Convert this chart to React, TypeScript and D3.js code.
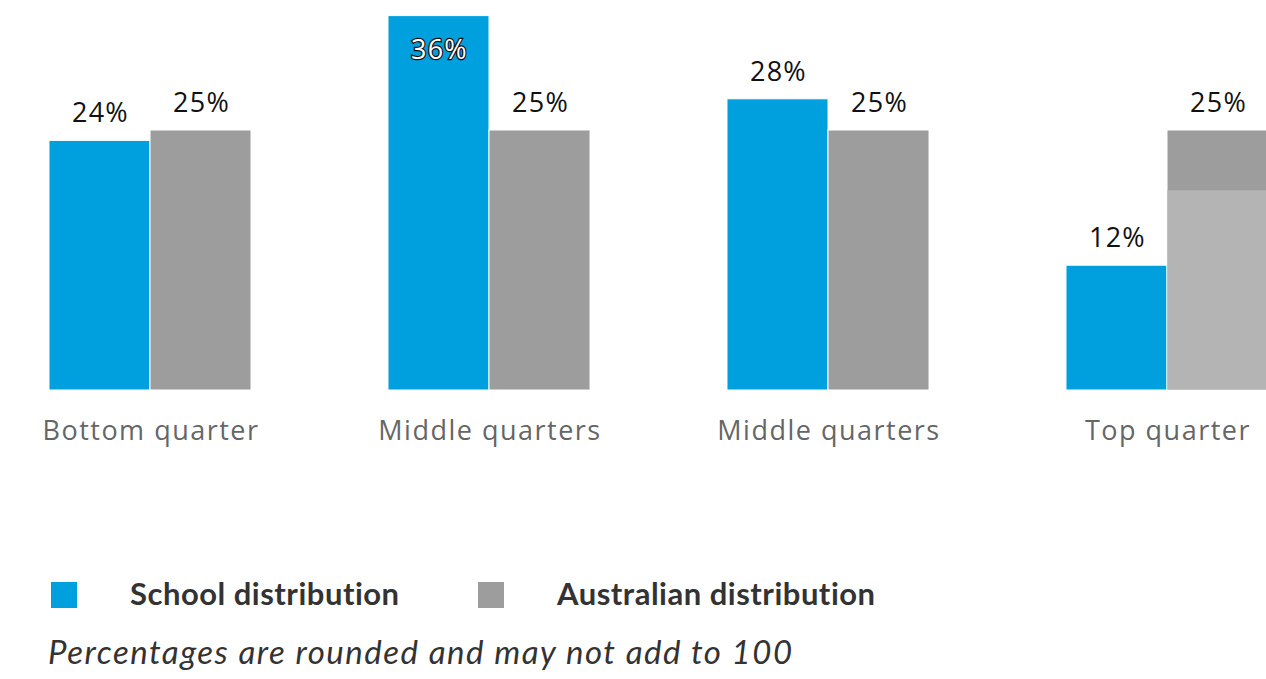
import React, { useEffect, useRef } from "react";
import * as d3 from "d3";

// quarters of the socio-educational scale
const categories = ["Bottom quarter", "Middle quarters", "Middle quarters ", "Top quarter"];
const schoolValues = [24, 36, 28, 12];
const australiaValues = [25, 25, 25, 25];
// lighter (hovered) part of the last grey bar, in %
const hoverValue = 19.2;

const seriesNames = ["School distribution", "Australian distribution"];
const colors = ["#00a0df", "#9d9d9d"];
const note = "Percentages are rounded and may not add to 100";

const App = () => {
  const svgRef = useRef<SVGSVGElement>(null);

  useEffect(() => {
    const width = 1266;
    const height = 679;
    const baseline = 390;

    const svg = d3.select(svgRef.current).attr("width", width).attr("height", height);
    svg.selectAll("*").remove();

    const x = d3
      .scaleBand()
      .domain(categories)
      .range([-19.5, -19.5 + 4 * 339])
      .paddingInner(0.404)
      .paddingOuter(0.202);

    const xSub = d3.scaleBand().domain(["school", "australia"]).range([0, x.bandwidth()]);

    const y = d3.scaleLinear().domain([0, 37.5]).range([baseline, 0]);

    const rows = categories.map((c, i) => ({
      cat: c,
      idx: i,
      bars: [
        { key: "school", value: schoolValues[i], color: colors[0] },
        { key: "australia", value: australiaValues[i], color: colors[1] },
      ],
    }));

    const groups = svg
      .append("g")
      .selectAll("g")
      .data(rows)
      .join("g")
      .attr("transform", (d) => `translate(${x(d.cat)},0)`);

    groups
      .selectAll("rect")
      .data((d) => d.bars)
      .join("rect")
      .attr("x", (d) => xSub(d.key)!)
      .attr("y", (d) => y(d.value))
      .attr("width", xSub.bandwidth())
      .attr("height", (d) => baseline - y(d.value))
      .attr("fill", (d) => d.color)
      .attr("stroke", "#fff")
      .attr("stroke-width", 1);

    // hover highlight on the last australian bar
    const last = categories[categories.length - 1];
    svg
      .append("rect")
      .attr("x", x(last)! + xSub("australia")! + 0.5)
      .attr("y", y(hoverValue))
      .attr("width", xSub.bandwidth() - 1)
      .attr("height", baseline - y(hoverValue) - 0.5)
      .attr("fill", "#b4b4b4");

    // data labels
    const inside = (v: number) => y(v) - 30 < 0;
    groups
      .selectAll("text.lbl")
      .data((d) => d.bars)
      .join("text")
      .attr("class", "lbl")
      .attr("x", (d) => xSub(d.key)! + xSub.bandwidth() / 2 + 1)
      .attr("y", (d) => (inside(d.value) ? y(d.value) + 43 : y(d.value) - 18))
      .attr("text-anchor", "middle")
      .attr("font-family", "'Open Sans', sans-serif")
      .attr("font-size", 27)
      .attr("letter-spacing", 1.2)
      .attr("fill", (d) => (inside(d.value) ? "#fff" : "#111"))
      .attr("stroke", (d) => (inside(d.value) ? "#111" : "none"))
      .attr("stroke-width", 2.5)
      .attr("paint-order", "stroke")
      .text((d) => `${d.value}%`);

    // category labels
    groups
      .append("text")
      .attr("x", x.bandwidth() / 2 + 1)
      .attr("y", 440)
      .attr("text-anchor", "middle")
      .attr("font-family", "'Open Sans', sans-serif")
      .attr("font-size", 27)
      .attr("letter-spacing", 1.5)
      .attr("fill", "#666")
      .text((d) => d.cat.trim());

    // legend
    const legendX = [51, 478];
    const legend = svg
      .append("g")
      .selectAll("g")
      .data(seriesNames)
      .join("g")
      .attr("transform", (d, i) => `translate(${legendX[i]},582)`);

    legend
      .append("rect")
      .attr("width", 26)
      .attr("height", 26)
      .attr("fill", (d, i) => colors[i]);

    legend
      .append("text")
      .attr("x", 79)
      .attr("y", 23)
      .attr("font-family", "Lato, sans-serif")
      .attr("font-weight", "bold")
      .attr("font-size", 31)
      .attr("letter-spacing", 0.5)
      .attr("fill", "#333")
      .text((d) => d);

    svg
      .append("text")
      .attr("x", 48)
      .attr("y", 664)
      .attr("font-family", "Lato, sans-serif")
      .attr("font-style", "italic")
      .attr("font-size", 33)
      .attr("letter-spacing", 1.5)
      .attr("fill", "#333")
      .text(note);
  }, []);

  return (
    <div style={{ position: "absolute", left: 0, top: 0 }}>
      <svg ref={svgRef}></svg>
    </div>
  );
};

export default App;
